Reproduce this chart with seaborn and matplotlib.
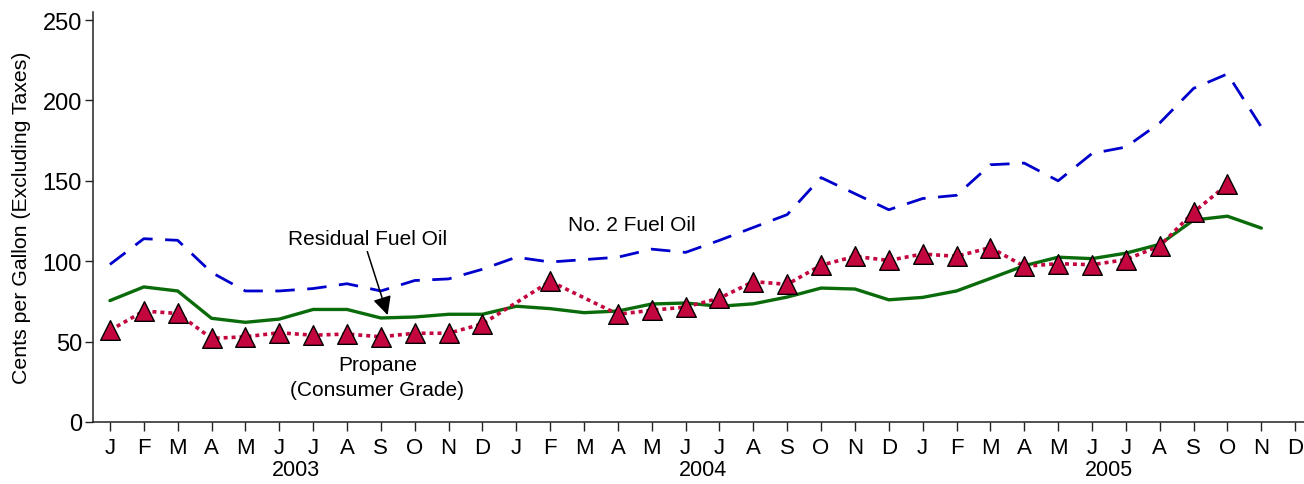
import numpy as np
import pandas as pd
import matplotlib
matplotlib.use("Agg")
import matplotlib.pyplot as plt
import matplotlib.transforms as mtransforms
import seaborn as sns

months = ["J", "F", "M", "A", "M", "J", "J", "A", "S", "O", "N", "D"] * 3
years = ["2003", "2004", "2005"]

no2_fuel_oil = [98, 114, 113, 93, 81.5, 81.5, 83, 86, 81.5, 88, 89, 95,
                102.5, 99.5, 101, 102.5, 107.5, 105.5, 113, 121, 129, 152, 142, 132,
                139, 141, 160, 161, 150, 167, 171, 186, 207.5, 216.5, 183.5, np.nan]
residual_fuel_oil = [75.5, 84, 81.5, 64.5, 62, 64, 70, 70, 64.7, 65.3, 67, 67,
                     72, 70.5, 68, 69, 73.4, 74, 72, 73.5, 77.7, 83.3, 82.7, 76,
                     77.5, 81.5, 89.3, 97.2, 102.5, 101.6, 105, 110.5, 125.6, 128, 120.6, np.nan]
propane = [57, 69, 67.5, 52, 53, 55.5, 54, 54.7, 53, 55.2, 55.2, 61,
           np.nan, 87.5, np.nan, 67, 69.5, 71.5, 77, 87.3, 85.6, 97.5, 103, 100.5,
           104.5, 103, 108.5, 96.8, 98.5, 97.8, 101, 109.5, 130.5, 147.8, np.nan, np.nan]

idx = np.arange(len(months))
df = pd.DataFrame({"m": idx, "no2": no2_fuel_oil, "resid": residual_fuel_oil, "prop": propane})

sns.set_style("white", rc={"text.color": "black", "axes.labelcolor": "black",
                           "xtick.color": "black", "ytick.color": "black"})
plt.rcParams["font.family"] = ["Liberation Sans", "DejaVu Sans"]

fig = plt.figure(figsize=(13.04, 4.85), dpi=100)
ax = fig.add_axes([93 / 1304, 62 / 485, 1 - 93 / 1304, (423 - 13) / 485])

blue = "#0000CC"
green = "#0A6B0A"
red = "#C4063F"

d = df.dropna(subset=["no2"])
sns.lineplot(data=d, x="m", y="no2", ax=ax, color=blue, lw=2.0,
             linestyle=(0, (7, 4.5)), legend=False)
d = df.dropna(subset=["resid"])
sns.lineplot(data=d, x="m", y="resid", ax=ax, color=green, lw=2.4, legend=False)
d = df.dropna(subset=["prop"])
sns.lineplot(data=d, x="m", y="prop", ax=ax, color=red, lw=2.6,
             linestyle=(0, (1.1, 1.1)), legend=False, zorder=3)
sns.scatterplot(data=d, x="m", y="prop", ax=ax, marker="^", s=200,
                color=red, edgecolor="black", linewidth=1.0, zorder=4, legend=False)

ax.set_xlim(-0.5, 35.26)
ax.set_ylim(0, 255)
ax.set_yticks([0, 50, 100, 150, 200, 250])
ax.set_xticks(idx)
ax.set_xticklabels(months)
ax.set_xlabel("")
ax.set_ylabel("Cents per Gallon (Excluding Taxes)", fontsize=15.3, labelpad=8)

for s in ["top", "right"]:
    ax.spines[s].set_visible(False)
for s in ["left", "bottom"]:
    ax.spines[s].set_color("#222222")
    ax.spines[s].set_linewidth(1.1)

ax.tick_params(axis="y", direction="out", length=6, width=1, color="#222222",
               labelcolor="black", labelsize=17, pad=2, left=True)
ax.tick_params(axis="x", direction="out", length=6.5, width=1, color="#222222",
               labelcolor="black", labelsize=16, pad=4.5, bottom=True)

trans = mtransforms.blended_transform_factory(ax.transData, ax.transAxes)
for i, yr in enumerate(years):
    ax.text(5.5 + 12 * i, -0.115, yr, transform=trans, ha="center", va="center",
            fontsize=15.5, color="black")

ax.text(7.62, 114, "Residual Fuel Oil", ha="center", va="center", fontsize=15, color="black")
ax.annotate("", xy=(8.2, 66.5), xytext=(7.6, 106),
            arrowprops=dict(arrowstyle="-|>", color="black", lw=1.1, mutation_scale=28,
                            shrinkA=0, shrinkB=0))
ax.text(15.4, 123, "No. 2 Fuel Oil", ha="center", va="center", fontsize=15, color="black")
ax.text(7.9, 36, "Propane", ha="center", va="center", fontsize=15, color="black")
ax.text(7.9, 20.5, "(Consumer Grade)", ha="center", va="center", fontsize=15, color="black")

fig.savefig("out.png", dpi=100)
